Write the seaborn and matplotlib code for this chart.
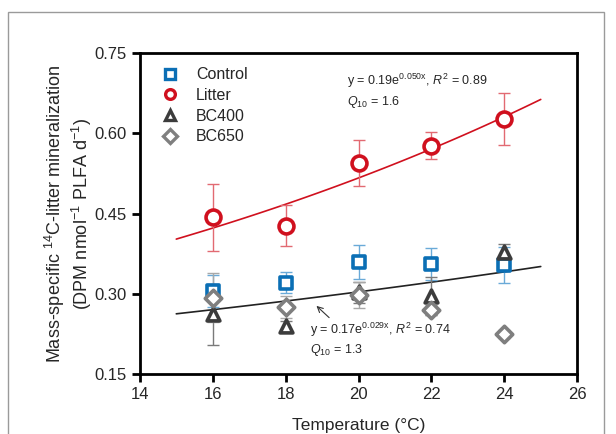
import numpy as np
import pandas as pd
import matplotlib
matplotlib.use("Agg")
import matplotlib.pyplot as plt
import seaborn as sns

temps = [16, 18, 20, 22, 24]
groups = ["Control", "Litter", "BC400", "BC650"]

control = [0.306, 0.321, 0.359, 0.355, 0.354]
control_err = [0.030, 0.020, 0.032, 0.030, 0.034]
litter = [0.443, 0.427, 0.545, 0.577, 0.627]
litter_err = [0.063, 0.038, 0.043, 0.026, 0.049]
bc400 = [0.262, 0.240, 0.303, 0.296, 0.379]
bc400_err = [0.057, 0.010, 0.020, 0.035, 0.015]
bc650 = [0.293, 0.275, 0.298, 0.270, 0.225]
bc650_err = [0.045, 0.020, 0.024, 0.010, 0.008]

# fitted exponential models (y = a*exp(b*x)) as printed on the chart
fit_litter = (0.19, 0.050)
fit_other = (0.17, 0.029)
fit_range = (15, 25)

values = {"Control": (control, control_err), "Litter": (litter, litter_err),
          "BC400": (bc400, bc400_err), "BC650": (bc650, bc650_err)}
markers = {"Control": "s", "Litter": "o", "BC400": "^", "BC650": "D"}
colors = {"Control": "#0b6fb5", "Litter": "#d0101e", "BC400": "#3c3c3c", "BC650": "#7f7f7f"}
err_colors = {"Control": "#6aaad8", "Litter": "#e26a72", "BC400": "#7a7a7a", "BC650": "#a8a8a8"}
sizes = {"Control": 75, "Litter": 115, "BC400": 85, "BC650": 70}

sns.set_style("ticks")
plt.rcParams["font.family"] = ["Liberation Sans", "DejaVu Sans"]
plt.rcParams["mathtext.fontset"] = "custom"
plt.rcParams["mathtext.rm"] = "Liberation Sans"
plt.rcParams["mathtext.it"] = "Liberation Sans:italic"

fig = plt.figure(figsize=(6.16, 4.34), dpi=100)
ax = fig.add_axes([0.227, 0.138, 0.710, 0.740])

# outer frame
fig.patches.append(plt.Rectangle((8 / 616, -0.1), 596 / 616, 1.1 - 12 / 434,
                                 transform=fig.transFigure, fill=False,
                                 edgecolor="#9a9a9a", linewidth=1.0))

# fit lines
xs = np.linspace(fit_range[0], fit_range[1], 100)
sns.lineplot(x=xs, y=fit_litter[0] * np.exp(fit_litter[1] * xs), color="#d0101e",
             linewidth=1.2, ax=ax)
sns.lineplot(x=xs, y=fit_other[0] * np.exp(fit_other[1] * xs), color="#222222",
             linewidth=1.2, ax=ax)

handles = []
for g in groups:
    v, e = values[g]
    ax.errorbar(temps, v, yerr=e, fmt="none", ecolor=err_colors[g],
                elinewidth=1.0, capsize=4, capthick=1.0, zorder=2)
for g in groups:
    v, e = values[g]
    sns.scatterplot(x=temps, y=v, marker=markers[g], s=sizes[g], facecolor="white",
                    edgecolor=colors[g], linewidth=2.6, ax=ax, zorder=3)
    h = plt.Line2D([], [], linestyle="none", marker=markers[g], markersize=7,
                   markerfacecolor="white", markeredgecolor=colors[g],
                   markeredgewidth=2.4, label=g)
    handles.append(h)

ax.legend(handles=handles, loc="upper left", bbox_to_anchor=(0.015, 1.0),
          frameon=False, fontsize=11.5, handletextpad=1.0, labelspacing=0.35,
          handlelength=1.2)

ax.text(19.68, 0.698, r"y = 0.19e$^{\mathrm{0.050x}}$, $R^2$ = 0.89", fontsize=9, va="center")
ax.text(19.68, 0.659, r"$Q_{10}$ = 1.6", fontsize=9, va="center")
ax.text(18.67, 0.232, r"y = 0.17e$^{\mathrm{0.029x}}$, $R^2$ = 0.74", fontsize=9, va="center")
ax.text(18.67, 0.195, r"$Q_{10}$ = 1.3", fontsize=9, va="center")
ax.annotate("", xy=(18.79, 0.281), xytext=(19.25, 0.252),
            arrowprops=dict(arrowstyle="->", color="#333333", lw=0.8))

ax.set_xlim(14, 26)
ax.set_ylim(0.15, 0.75)
ax.set_xticks([14, 16, 18, 20, 22, 24, 26])
ax.set_yticks([0.15, 0.30, 0.45, 0.60, 0.75])
ax.set_yticklabels(["0.15", "0.30", "0.45", "0.60", "0.75"])
for s in ax.spines.values():
    s.set_linewidth(2)
    s.set_color("black")
ax.tick_params(width=2, length=6, labelsize=12, color="black")
ax.set_xlabel("Temperature (°C)", fontsize=12.5, labelpad=11)
ax.set_ylabel("Mass-specific $^{14}$C-litter mineralization\n(DPM nmol$^{-1}$ PLFA d$^{-1}$)",
              fontsize=13, labelpad=0)

fig.savefig("out.png", dpi=100)
